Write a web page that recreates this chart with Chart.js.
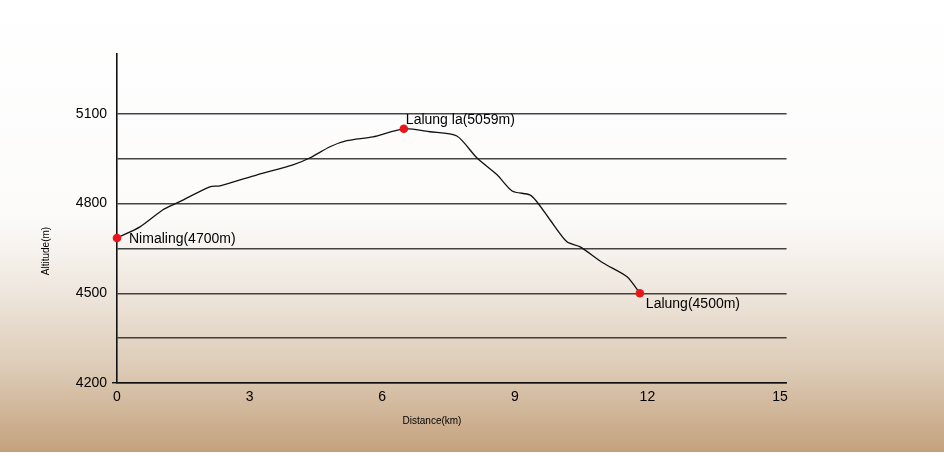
<!DOCTYPE html>
<html lang="en">
<head>
    <meta charset="UTF-8">
    <title>Nimaling - Lalung la - Lalung</title>
    <style>
        body {
            margin: 0;
            padding: 0;
            background: #fff;
        }

        canvas {
            display: block;
        }
    </style>
</head>
<body>

    <canvas id="profile" width="944" height="456"></canvas>

    <script src="https://cdn.jsdelivr.net/npm/chart.js"></script>
    <script>
        // trail profile
        const distanceKm = [0, 0.52, 1.04, 1.36, 2.10, 2.33, 3.17, 3.98, 4.37, 4.82, 5.20, 5.79, 6.49, 7.08, 7.69,
            8.14, 8.60, 8.94, 9.34, 9.50, 9.80, 10.18, 10.48, 11.00, 11.54, 11.83];
        const altitudeM = [4685, 4722, 4779, 4802, 4856, 4859, 4896, 4929, 4953, 4990, 5010, 5023, 5050, 5040, 5026,
            4953, 4896, 4842, 4829, 4806, 4745, 4672, 4655, 4601, 4555, 4500];

        // named stops along the way
        const stopNames = ['Nimaling(4700m)', 'Lalung la(5059m)', 'Lalung(4500m)'];
        const stopKm = [0, 6.49, 11.83];
        const stopAlt = [4685, 5050, 4500];

        // axis ticks
        const xTicks = [0, 3, 6, 9, 12, 15];
        const yGrid = [4200, 4350, 4500, 4650, 4800, 4950, 5100];
        const yLabels = [4200, 4500, 4800, 5100];

        // label offsets from each red dot (dx, dy)
        const labelOffsets = [[12, 1], [2, -9], [6, 11]];

        Chart.defaults.font.family = "'Liberation Sans', Arial, Helvetica, sans-serif";
        Chart.defaults.color = '#000';

        // fundo bege
        const fundo = {
            id: 'fundo',
            beforeDraw(chart) {
                const ctx = chart.ctx;
                const g = ctx.createLinearGradient(0, 0, 0, 452);
                g.addColorStop(0, '#ffffff');
                g.addColorStop(0.48, '#fcfbfa');
                g.addColorStop(0.64, '#efe7de');
                g.addColorStop(0.82, '#dccab5');
                g.addColorStop(1, '#c4a17c');
                ctx.save();
                ctx.fillStyle = '#ffffff';
                ctx.fillRect(0, 0, chart.width, chart.height);
                ctx.fillStyle = g;
                ctx.fillRect(0, 0, chart.width, 452);
                ctx.restore();
            }
        };

        // axis titles and stop names
        const textos = {
            id: 'textos',
            afterDatasetsDraw(chart) {
                const ctx = chart.ctx;
                const pts = chart.getDatasetMeta(0).data;
                ctx.save();
                ctx.fillStyle = '#000';
                ctx.font = "14px 'Liberation Sans', Arial, sans-serif";
                ctx.textAlign = 'left';
                ctx.textBaseline = 'middle';
                stopNames.forEach((nome, i) => {
                    ctx.fillText(nome, pts[i].x + labelOffsets[i][0], pts[i].y + labelOffsets[i][1]);
                });

                ctx.font = "10px 'Liberation Sans', Arial, sans-serif";
                ctx.textAlign = 'center';
                ctx.fillText('Distance(km)', 432, 421);
                ctx.translate(46, 251);
                ctx.rotate(-Math.PI / 2);
                ctx.fillText('Altitude(m)', 0, 0);
                ctx.restore();
            }
        };

        const ctx = document.getElementById('profile').getContext('2d');
        new Chart(ctx, {
            type: 'line',
            data: {
                datasets: [{
                    type: 'scatter',
                    data: stopKm.map((km, i) => ({ x: km, y: stopAlt[i] })),
                    backgroundColor: '#e8161c',
                    borderWidth: 0,
                    pointRadius: 4.3,
                    clip: false
                }, {
                    data: distanceKm.map((km, i) => ({ x: km, y: altitudeM[i] })),
                    borderColor: '#111',
                    borderWidth: 1.3,
                    pointRadius: 0,
                    tension: 0.25,
                    fill: false
                }]
            },
            options: {
                responsive: false,
                animation: false,
                layout: {
                    padding: { left: 0, top: 54, right: 157.4, bottom: 0 }
                },
                plugins: {
                    legend: { display: false },
                    tooltip: { enabled: false }
                },
                scales: {
                    x: {
                        type: 'linear',
                        min: 0,
                        max: 15.15,
                        afterBuildTicks: s => { s.ticks = xTicks.map(v => ({ value: v })); },
                        afterFit: s => { s.height = 73; },
                        grid: { display: false, drawTicks: false },
                        border: { color: '#111', width: 1.6 },
                        ticks: {
                            padding: 6,
                            font: { size: 14 },
                            callback: v => String(v)
                        }
                    },
                    y: {
                        type: 'linear',
                        min: 4200,
                        max: 5300,
                        afterBuildTicks: s => { s.ticks = yGrid.map(v => ({ value: v })); },
                        afterFit: s => { s.width = 117; },
                        grid: {
                            color: 'rgba(35,35,35,0.85)',
                            lineWidth: 1.4,
                            tickLength: 5,
                            // only the bottom tick sticks out left of the axis
                            tickColor: c => c.tick && c.tick.value === 4200 ? '#111' : 'rgba(0,0,0,0)'
                        },
                        border: { color: '#111', width: 1.6 },
                        ticks: {
                            padding: 5,
                            font: { size: 14 },
                            callback: v => yLabels.includes(v) ? String(v) : ''
                        }
                    }
                }
            },
            plugins: [fundo, textos]
        });
    </script>

</body>
</html>
